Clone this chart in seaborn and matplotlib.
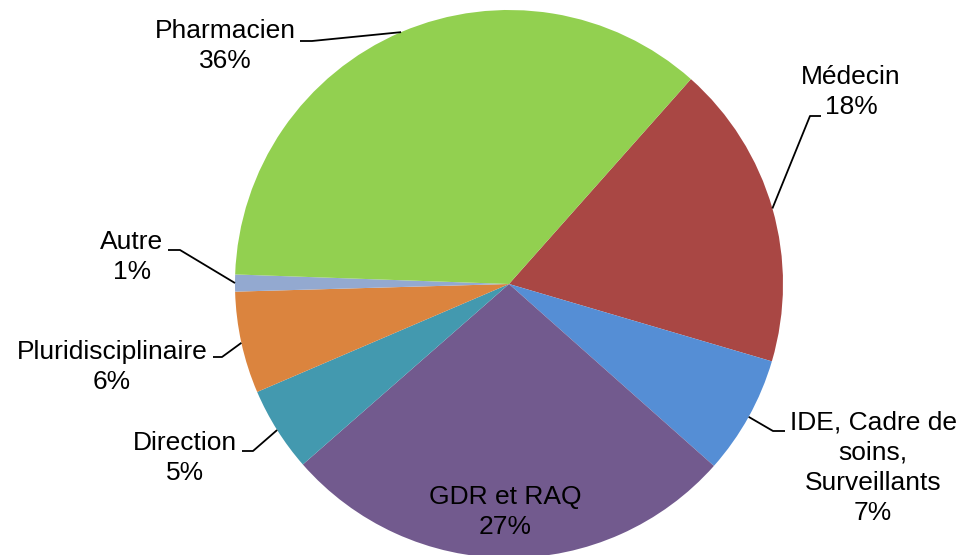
import numpy as np
import matplotlib
matplotlib.use("Agg")
import matplotlib.pyplot as plt
import seaborn as sns

# donnees (ordre horaire a partir de Medecin)
categories = ["Médecin", "IDE, Cadre de\nsoins,\nSurveillants", "GDR et RAQ",
              "Direction", "Pluridisciplinaire", "Autre", "Pharmacien"]
parts = [18, 7, 27, 5, 6, 1, 36]
couleurs = ["#A94744", "#558ED5", "#725A8E", "#4399AF", "#DB843E", "#93A9D0", "#92D050"]

sns.set_style("white")
plt.rcParams['font.family'] = ['Liberation Sans', 'DejaVu Sans']

W, H = 961, 555
fig = plt.figure(figsize=(W / 100, H / 100), dpi=100)
ax = fig.add_axes([0, 0, 1, 1])

cx, cy, rayon = 509, H - 284, 274
wedges, _ = ax.pie(parts, colors=couleurs, startangle=48.4, counterclock=False,
                   center=(cx, cy), radius=rayon,
                   wedgeprops=dict(linewidth=0))
ax.set_xlim(0, W)
ax.set_ylim(0, H)
ax.set_aspect('equal')
ax.axis('off')

# position des etiquettes (coordonnees image) et segment horizontal du trait de rappel
etiquettes = {
    "Médecin": ((851, 92), [(821, 116), (810, 116)]),
    "IDE, Cadre de\nsoins,\nSurveillants": ((873, 468), [(785, 431), (773, 431)]),
    "GDR et RAQ": ((505, 512), None),
    "Direction": ((185, 458), [(242, 451), (253, 451)]),
    "Pluridisciplinaire": ((112, 367), [(213, 357), (222, 357)]),
    "Autre": ((132, 257), [(168, 250), (180, 250)]),
    "Pharmacien": ((225, 46), [(300, 41), (312, 41)]),
}

for w, cat, p in zip(wedges, categories, parts):
    (tx, ty), seg = etiquettes[cat]
    ax.text(tx, H - ty, f"{cat}\n{p}%", ha='center', va='center',
            fontsize=19, color='black', linespacing=1.32)
    if seg is None:
        continue
    ang = np.deg2rad((w.theta1 + w.theta2) / 2)
    ex = cx + rayon * np.cos(ang)
    ey = cy + rayon * np.sin(ang)
    xs = [seg[0][0], seg[1][0], ex]
    ys = [H - seg[0][1], H - seg[1][1], ey]
    ax.plot(xs, ys, color='black', lw=1.3, solid_capstyle='butt')

fig.savefig("out.png", dpi=100)
